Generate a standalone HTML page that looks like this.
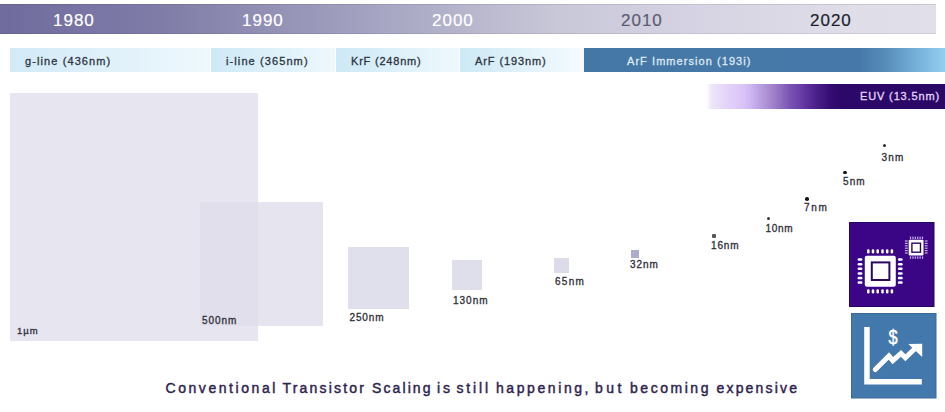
<!DOCTYPE html>
<html><head><meta charset="utf-8">
<style>
*{margin:0;padding:0;box-sizing:border-box}
html,body{width:945px;height:412px;background:#fff;overflow:hidden;font-family:"Liberation Sans",sans-serif}
.a{position:absolute}
#bar{left:0;top:4px;width:936px;height:30px;box-shadow:inset 0 1px 0 rgba(40,40,70,.12),inset 0 -1px 0 rgba(40,40,70,.1);background:linear-gradient(90deg,#6f6b9c 0px,#7a76a5 100px,#7f7ca7 160px,#a2a1c0 360px,#c9c8d8 560px,#d5d3e3 690px,#d9d7e4 750px,#dedde8 850px,#e0dfea 936px)}
.yr{top:12px;font-size:17px;-webkit-text-stroke:0.2px;letter-spacing:1px;line-height:17px;white-space:nowrap}
.band{top:48px;height:24px}
.bl{top:55px;font-size:11px;line-height:13px;color:#2c3442;-webkit-text-stroke:0.3px;letter-spacing:1.1px;white-space:nowrap}
.sq{background:#e6e5f0}
.lb{font-size:10px;color:#2e2e38;-webkit-text-stroke:0.3px;letter-spacing:0.9px;line-height:11px;white-space:nowrap}
.cap{top:380px;font-size:14px;line-height:16px;color:#2e2450;-webkit-text-stroke:0.45px #2e2450;white-space:nowrap}
.dot{background:#444;border-radius:50%}
</style></head><body>
<div id="bar" class="a"></div>
<div class="a yr" style="left:53px;color:#fff">1980</div>
<div class="a yr" style="left:242px;color:#fff">1990</div>
<div class="a yr" style="left:432px;color:#fff">2000</div>
<div class="a yr" style="left:621px;color:#5e5c70">2010</div>
<div class="a yr" style="left:810px;color:#1e1e2e">2020</div>

<div class="a band" style="left:10px;width:200px;background:linear-gradient(90deg,#d2eaf7,#eef8fd)"></div>
<div class="a band" style="left:211px;width:124px;background:linear-gradient(90deg,#cde9f6,#eef8fd)"></div>
<div class="a band" style="left:336px;width:123px;background:linear-gradient(90deg,#cde9f6,#eef8fd)"></div>
<div class="a band" style="left:460px;width:124px;background:linear-gradient(90deg,#cde9f6,#eef8fd 85%,#f8fcfe)"></div>
<div class="a band" style="left:584px;width:361px;background:linear-gradient(90deg,#4577a6 0,#4679a9 275px,#5a90bc 305px,#6ea8d2 325px,#80bce2 343px,#94ceef 361px)"></div>
<div class="a bl" style="left:25px">g-line (436nm)</div>
<div class="a bl" style="left:226px">i-line (365nm)</div>
<div class="a bl" style="left:351px;letter-spacing:0.8px">KrF (248nm)</div>
<div class="a bl" style="left:475px;letter-spacing:0.9px">ArF (193nm)</div>
<div class="a bl" style="left:627px;color:#dfe9f4;letter-spacing:1.06px">ArF Immersion (193i)</div>

<div class="a" style="left:706px;top:84px;width:239px;height:25px;background:linear-gradient(90deg,#fff 0px,#ece6f6 6px,#e2d0f8 24px,#dcc8f8 34px,#d0b8f4 44px,#b8a0e0 54px,#a888d0 64px,#9070c0 74px,#7a52b4 84px,#6a40a8 94px,#582a98 104px,#441a84 114px,#360c74 124px,#2c0868 136px,#2a0866 239px)"></div>
<div class="a bl" style="left:860px;top:90px;color:#e4d6fa;letter-spacing:0.86px">EUV (13.5nm)</div>

<div class="a sq" style="left:10px;top:93px;width:248px;height:248px"></div>
<div class="a sq" style="left:200px;top:202px;width:123px;height:124px;background:#e6e5ef"></div>
<div class="a" style="left:200px;top:202px;width:58px;height:124px;background:#e1dfeb"></div>
<div class="a sq" style="left:348px;top:247px;width:61px;height:62px;background:#e0dfec"></div>
<div class="a sq" style="left:452px;top:260px;width:30px;height:30px;background:#dfdeeb"></div>
<div class="a sq" style="left:554px;top:258px;width:15px;height:15px;background:#dcdbea"></div>
<div class="a sq" style="left:631px;top:250px;width:8px;height:8px;background:#aeaccc"></div>
<div class="a dot" style="left:712px;top:234px;width:4px;height:4px;border-radius:1px;background:#585858"></div>
<div class="a dot" style="left:766.5px;top:216.5px;width:3.5px;height:3.5px;background:#383838"></div>
<div class="a dot" style="left:805px;top:197px;width:3.6px;height:3.6px;background:#151515"></div>
<div class="a dot" style="left:843.2px;top:170.8px;width:3.6px;height:3.6px;background:#151515"></div>
<div class="a dot" style="left:883px;top:143.6px;width:3.2px;height:3.2px;background:#2a2a2a"></div>

<div class="a lb" style="left:17px;top:325px;font-size:9.5px;letter-spacing:1px">1µm</div>
<div class="a lb" style="left:202.0px;top:315px;letter-spacing:0.95px">500nm</div>
<div class="a lb" style="left:349.5px;top:312px;letter-spacing:0.85px">250nm</div>
<div class="a lb" style="left:453.0px;top:295px;letter-spacing:1.00px">130nm</div>
<div class="a lb" style="left:555.0px;top:276px;letter-spacing:1.27px">65nm</div>
<div class="a lb" style="left:630.0px;top:259px;letter-spacing:0.93px">32nm</div>
<div class="a lb" style="left:711.0px;top:240px;letter-spacing:0.87px">16nm</div>
<div class="a lb" style="left:765.5px;top:223px;letter-spacing:0.73px">10nm</div>
<div class="a lb" style="left:804.0px;top:202px;letter-spacing:1.70px">7nm</div>
<div class="a lb" style="left:843.0px;top:176px;letter-spacing:1.10px">5nm</div>
<div class="a lb" style="left:881.5px;top:152px;letter-spacing:1.20px">3nm</div>

<svg class="a" style="left:0;top:0" width="945" height="412" viewBox="0 0 945 412">
<rect x="849.5" y="222.5" width="84.5" height="84" fill="#3a0686" stroke="#2a0468" stroke-width="1"/>
<rect x="864.8" y="255.7" width="31" height="31" rx="2" fill="#fff"/>
<rect x="871.8" y="262.4" width="17.6" height="17.6" fill="none" stroke="#2a0a60" stroke-width="2"/>
<g fill="#fff"><rect x="867.05" y="249.3" width="2.5" height="4.2" rx="1.2"/><rect x="867.05" y="289.2" width="2.5" height="4.2" rx="1.2"/><rect x="871.75" y="249.3" width="2.5" height="4.2" rx="1.2"/><rect x="871.75" y="289.2" width="2.5" height="4.2" rx="1.2"/><rect x="876.45" y="249.3" width="2.5" height="4.2" rx="1.2"/><rect x="876.45" y="289.2" width="2.5" height="4.2" rx="1.2"/><rect x="881.25" y="249.3" width="2.5" height="4.2" rx="1.2"/><rect x="881.25" y="289.2" width="2.5" height="4.2" rx="1.2"/><rect x="885.95" y="249.3" width="2.5" height="4.2" rx="1.2"/><rect x="885.95" y="289.2" width="2.5" height="4.2" rx="1.2"/><rect x="890.65" y="249.3" width="2.5" height="4.2" rx="1.2"/><rect x="890.65" y="289.2" width="2.5" height="4.2" rx="1.2"/><rect x="857.6" y="258.25" width="4.8" height="2.5" rx="1.2"/><rect x="897.9" y="258.25" width="4.8" height="2.5" rx="1.2"/><rect x="857.6" y="262.95" width="4.8" height="2.5" rx="1.2"/><rect x="897.9" y="262.95" width="4.8" height="2.5" rx="1.2"/><rect x="857.6" y="267.45" width="4.8" height="2.5" rx="1.2"/><rect x="897.9" y="267.45" width="4.8" height="2.5" rx="1.2"/><rect x="857.6" y="272.15" width="4.8" height="2.5" rx="1.2"/><rect x="897.9" y="272.15" width="4.8" height="2.5" rx="1.2"/><rect x="857.6" y="276.85" width="4.8" height="2.5" rx="1.2"/><rect x="897.9" y="276.85" width="4.8" height="2.5" rx="1.2"/><rect x="857.6" y="281.35" width="4.8" height="2.5" rx="1.2"/><rect x="897.9" y="281.35" width="4.8" height="2.5" rx="1.2"/></g>
<rect x="908.7" y="239.7" width="14.8" height="15.8" rx="1" fill="#fff"/>
<rect x="911.9" y="243.2" width="8.6" height="9" fill="none" stroke="#2a0a60" stroke-width="1.4"/>
<g fill="#c8b0f0"><rect x="909.90" y="236.6" width="1.2" height="2.4"/><rect x="909.90" y="256.4" width="1.2" height="2.4"/><rect x="912.30" y="236.6" width="1.2" height="2.4"/><rect x="912.30" y="256.4" width="1.2" height="2.4"/><rect x="914.70" y="236.6" width="1.2" height="2.4"/><rect x="914.70" y="256.4" width="1.2" height="2.4"/><rect x="917.10" y="236.6" width="1.2" height="2.4"/><rect x="917.10" y="256.4" width="1.2" height="2.4"/><rect x="919.50" y="236.6" width="1.2" height="2.4"/><rect x="919.50" y="256.4" width="1.2" height="2.4"/><rect x="921.90" y="236.6" width="1.2" height="2.4"/><rect x="921.90" y="256.4" width="1.2" height="2.4"/><rect x="904.9" y="240.40" width="2.8" height="1.2"/><rect x="924.8" y="240.40" width="2.8" height="1.2"/><rect x="904.9" y="242.80" width="2.8" height="1.2"/><rect x="924.8" y="242.80" width="2.8" height="1.2"/><rect x="904.9" y="245.20" width="2.8" height="1.2"/><rect x="924.8" y="245.20" width="2.8" height="1.2"/><rect x="904.9" y="247.60" width="2.8" height="1.2"/><rect x="924.8" y="247.60" width="2.8" height="1.2"/><rect x="904.9" y="250.00" width="2.8" height="1.2"/><rect x="924.8" y="250.00" width="2.8" height="1.2"/><rect x="904.9" y="252.40" width="2.8" height="1.2"/><rect x="924.8" y="252.40" width="2.8" height="1.2"/></g>
<rect x="851.5" y="313.5" width="84.5" height="84.5" fill="#4378ac" stroke="#3a6a9a" stroke-width="1"/>
<path d="M864.2 326.9H869.7V379.1H921.8V384.6H864.2Z" fill="#fff"/>
<path d="M875.3 369.5L888.9 355.9L892.8 360.7L901 353.4L905.4 357.8L914 349.5" fill="none" stroke="#fff" stroke-width="5" stroke-linejoin="miter" stroke-linecap="round"/>
<path d="M908.3 344L922.2 343.7L922.2 356.9Z" fill="#fff"/>
<text transform="translate(893.1,344.2) scale(0.78,1)" font-family="Liberation Sans" font-size="21" fill="#fff" stroke="#fff" stroke-width="0.5" text-anchor="middle">$</text>
</svg>

<div class="a cap" style="left:165.5px;letter-spacing:2.56px">Conventional</div>
<div class="a cap" style="left:282.5px;letter-spacing:2.20px">Transistor</div>
<div class="a cap" style="left:372.0px;letter-spacing:2.10px">Scaling</div>
<div class="a cap" style="left:437.0px;letter-spacing:2.80px">is</div>
<div class="a cap" style="left:456.5px;letter-spacing:2.85px">still</div>
<div class="a cap" style="left:496.0px;letter-spacing:2.58px">happening,</div>
<div class="a cap" style="left:595.0px;letter-spacing:3.50px">but</div>
<div class="a cap" style="left:630.0px;letter-spacing:2.54px">becoming</div>
<div class="a cap" style="left:716.5px;letter-spacing:2.18px">expensive</div>
</body></html>
